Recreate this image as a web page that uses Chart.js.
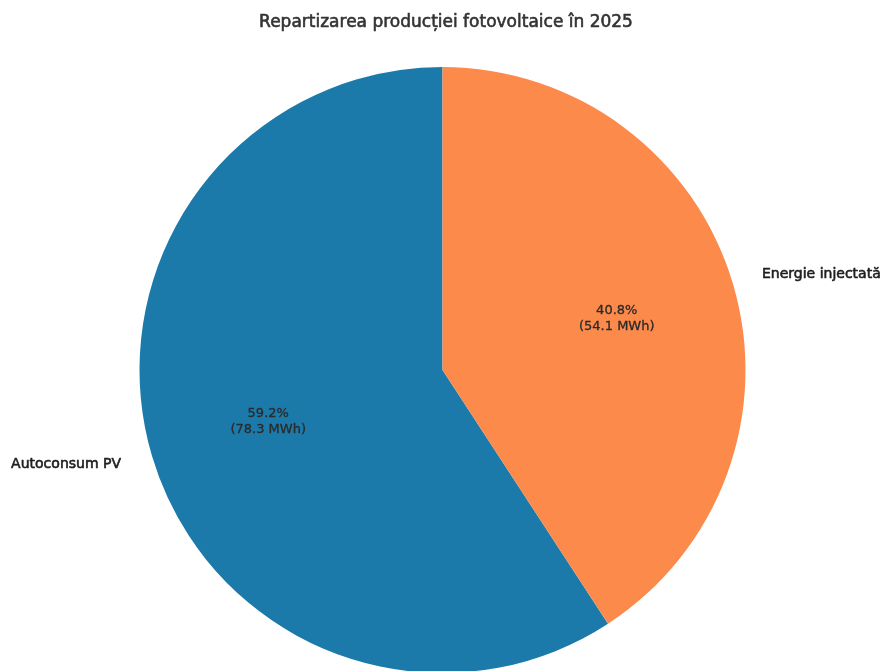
<!DOCTYPE html>
<html>
<head>
<meta charset="utf-8">
<script src="https://cdn.jsdelivr.net/npm/chart.js@4/dist/chart.umd.min.js"></script>
<style>
html,body{margin:0;padding:0;background:#fff;overflow:hidden;}
#wrap{position:relative;width:885px;height:680px;}
</style>
</head>
<body>
<div id="wrap"><canvas id="c" width="885" height="680"></canvas></div>
<script>
const title = 'Repartizarea producției fotovoltaice în 2025';
const categories = ['Autoconsum PV', 'Energie injectată'];
const percentValues = [59.2, 40.8];
const energyMWh = [78.3, 54.1];
const colors = ['#1c7aab', '#fb8a4b'];

function heavyText(ctx, txt, x, y, color, w) {
  ctx.fillStyle = color;
  ctx.strokeStyle = color;
  ctx.lineWidth = w;
  ctx.lineJoin = 'round';
  ctx.strokeText(txt, x, y);
  ctx.fillText(txt, x, y);
}

const textPlugin = {
  id: 'textPlugin',
  afterDraw(chart) {
    const ctx = chart.ctx;
    ctx.save();
    ctx.font = '17px "DejaVu Sans"';
    ctx.textAlign = 'center';
    ctx.textBaseline = 'middle';
    heavyText(ctx, title, 446, 23, '#333333', 0.6);
    const meta = chart.getDatasetMeta(0);
    meta.data.forEach((arc, i) => {
      const p = arc.getProps(['x','y','startAngle','endAngle','outerRadius'], true);
      const mid = (p.startAngle + p.endAngle) / 2;
      const cx = Math.cos(mid), sy = Math.sin(mid);
      const r1 = p.outerRadius * 0.6;
      ctx.font = '13px "DejaVu Sans"';
      ctx.textAlign = 'center';
      heavyText(ctx, percentValues[i].toFixed(1) + '%', p.x + cx * r1, p.y + sy * r1 - 8, '#2a2a2a', 0.3);
      heavyText(ctx, '(' + energyMWh[i].toFixed(1) + ' MWh)', p.x + cx * r1, p.y + sy * r1 + 8, '#2a2a2a', 0.3);
      const r2 = p.outerRadius * 1.1;
      ctx.font = '14px "DejaVu Sans"';
      ctx.textAlign = cx >= 0 ? 'left' : 'right';
      heavyText(ctx, categories[i], p.x + cx * r2 - (cx < 0 ? 2 : 0), p.y + sy * r2 - 1, '#1e1e1e', 0.6);
    });
    ctx.restore();
  }
};

new Chart(document.getElementById('c'), {
  type: 'pie',
  data: {
    labels: categories,
    datasets: [{
      data: percentValues,
      backgroundColor: colors,
      borderWidth: 0
    }]
  },
  options: {
    responsive: false,
    animation: false,
    rotation: percentValues[1] / 100 * 360,
    layout: { padding: { top: 67, bottom: 7, left: 0, right: 0 } },
    plugins: { legend: { display: false }, tooltip: { enabled: false }, title: { display: false } }
  },
  plugins: [textPlugin]
});
</script>
</body>
</html>
